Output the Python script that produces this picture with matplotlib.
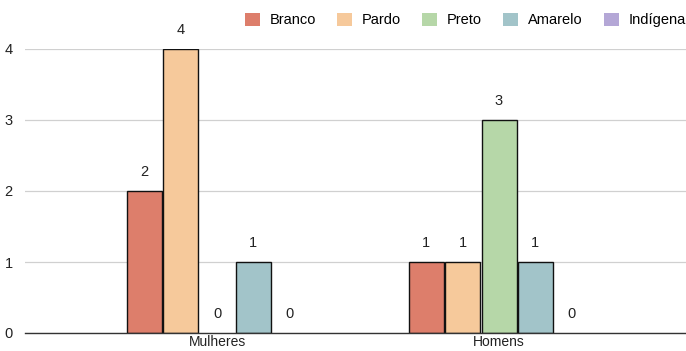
import matplotlib
matplotlib.use("Agg")
import numpy as np
import matplotlib.pyplot as plt

plt.rcParams['font.family'] = ['Liberation Sans', 'DejaVu Sans']

# Data
groups = ["Mulheres", "Homens"]
series = ["Branco", "Pardo", "Preto", "Amarelo", "Indígena"]
branco = [2, 1]
pardo = [4, 1]
preto = [0, 3]
amarelo = [1, 1]
indigena = [0, 0]
values = [branco, pardo, preto, amarelo, indigena]
colors = ["#dd7e6b", "#f6c99b", "#b6d7a8", "#a2c4c9", "#b4a7d6"]

fig = plt.figure(figsize=(6.86, 3.51), dpi=100)
ax = fig.add_axes([25 / 686, 18 / 351, 661 / 686, 284 / 351])

x = np.arange(len(groups))
pitch = 36.4 / 282
width = 35 / 282
fs = 10.5

for i, (name, vals, col) in enumerate(zip(series, values, colors)):
    pos = x + (i - 2) * pitch
    bars = ax.bar(pos, vals, width=width, color=col, edgecolor="#111111",
                  linewidth=1.0, label=name, zorder=3)
    for b, v in zip(bars, vals):
        if v == 0:
            b.set_linewidth(0)
        ax.annotate(str(v), (b.get_x() + b.get_width() / 2, v),
                    xytext=(0, 13.5), textcoords="offset points",
                    ha="center", va="center", fontsize=fs, color="#222222",
                    annotation_clip=False)

ax.set_xlim((25 - 217) / 282, (686 - 217) / 282)
ax.set_ylim(0, 4)
ax.set_yticks([0, 1, 2, 3, 4])
ax.set_xticks(x)
ax.set_xticklabels(groups)
ax.tick_params(axis="both", length=0, labelsize=fs, colors="#222222")
ax.tick_params(axis="y", pad=9)
ax.tick_params(axis="x", pad=1.5, labelsize=10)
ax.grid(axis="y", color="#d0d0d0", linewidth=0.9, zorder=0)
for s in ["top", "right", "left"]:
    ax.spines[s].set_visible(False)
ax.spines["bottom"].set_color("#333333")
ax.spines["bottom"].set_linewidth(1.0)
ax.spines["bottom"].set_zorder(4)

handles, labels = ax.get_legend_handles_labels()
leg = fig.legend(handles, labels, loc="center right",
                 bbox_to_anchor=(1.0, 1 - 20 / 351),
                 ncol=5, frameon=False, fontsize=fs, handlelength=1.0,
                 handleheight=1.0, handletextpad=0.7, columnspacing=1.45,
                 borderpad=0, borderaxespad=0)
for p in leg.get_patches():
    p.set_edgecolor("none")

fig.savefig("out.png", dpi=100)
